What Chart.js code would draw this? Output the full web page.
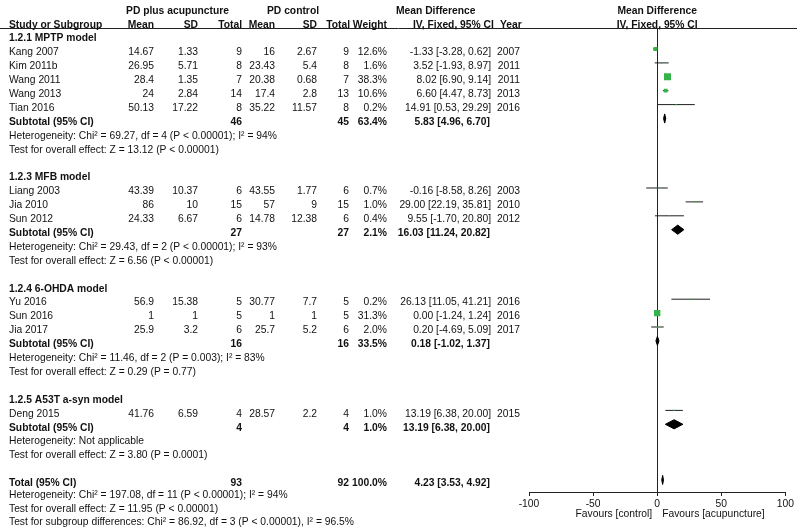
<!DOCTYPE html>
<html lang="en">
<head>
  <meta charset="UTF-8">
  <title>Forest Plot</title>
  <script src="https://cdn.jsdelivr.net/npm/chart.js"></script>
  <style>
    body { margin: 0; background: #fff; }
    #forest { display: block; }
  </style>
</head>
<body>
  <canvas id="forest" width="797" height="528"></canvas>
  <script>
    // studies, in table order
    var studyNames = ['Kang 2007', 'Kim 2011b', 'Wang 2011', 'Wang 2013', 'Tian 2016',
      'Liang 2003', 'Jia 2010', 'Sun 2012',
      'Yu 2016', 'Sun 2016', 'Jia 2017',
      'Deng 2015'];
    var expMean = [14.67, 26.95, 28.4, 24, 50.13, 43.39, 86, 24.33, 56.9, 1, 25.9, 41.76];
    var expSD = [1.33, 5.71, 1.35, 2.84, 17.22, 10.37, 10, 6.67, 15.38, 1, 3.2, 6.59];
    var expN = [9, 8, 7, 14, 8, 6, 15, 6, 5, 5, 6, 4];
    var ctlMean = [16, 23.43, 20.38, 17.4, 35.22, 43.55, 57, 14.78, 30.77, 1, 25.7, 28.57];
    var ctlSD = [2.67, 5.4, 0.68, 2.8, 11.57, 1.77, 9, 12.38, 7.7, 1, 5.2, 2.2];
    var ctlN = [9, 8, 7, 13, 8, 6, 15, 6, 5, 5, 6, 4];
    var weights = [12.6, 1.6, 38.3, 10.6, 0.2, 0.7, 1.0, 0.4, 0.2, 31.3, 2.0, 1.0];
    var md = [-1.33, 3.52, 8.02, 6.60, 14.91, -0.16, 29.00, 9.55, 26.13, 0.00, 0.20, 13.19];
    var mdLow = [-3.28, -1.93, 6.90, 4.47, 0.53, -8.58, 22.19, -1.70, 11.05, -1.24, -4.69, 6.38];
    var mdHigh = [0.62, 8.97, 9.14, 8.73, 29.29, 8.26, 35.81, 20.80, 41.21, 1.24, 5.09, 20.00];
    var years = [2007, 2011, 2011, 2013, 2016, 2003, 2010, 2012, 2016, 2016, 2017, 2015];
    var studyRows = [1, 2, 3, 4, 5, 11, 12, 13, 19, 20, 21, 27];

    // subgroups
    var groupNames = ['1.2.1 MPTP model', '1.2.3 MFB model', '1.2.4 6-OHDA model', '1.2.5 A53T a-syn model'];
    var groupRows = [0, 10, 18, 26];
    var subRows = [6, 14, 22, 28];
    var subExpN = [46, 27, 16, 4];
    var subCtlN = [45, 27, 16, 4];
    var subWeight = [63.4, 2.1, 33.5, 1.0];
    var subMd = [5.83, 16.03, 0.18, 13.19];
    var subLow = [4.96, 11.24, -1.02, 6.38];
    var subHigh = [6.70, 20.82, 1.37, 20.00];
    var subHet = ['Heterogeneity: Chi² = 69.27, df = 4 (P < 0.00001); I² = 94%',
      'Heterogeneity: Chi² = 29.43, df = 2 (P < 0.00001); I² = 93%',
      'Heterogeneity: Chi² = 11.46, df = 2 (P = 0.003); I² = 83%',
      'Heterogeneity: Not applicable'];
    var subTest = ['Test for overall effect: Z = 13.12 (P < 0.00001)',
      'Test for overall effect: Z = 6.56 (P < 0.00001)',
      'Test for overall effect: Z = 0.29 (P = 0.77)',
      'Test for overall effect: Z = 3.80 (P = 0.0001)'];

    // overall
    var totalRow = 32;
    var totalExpN = 93, totalCtlN = 92, totalWeight = 100.0;
    var totalMd = 4.23, totalLow = 3.53, totalHigh = 4.92;
    var totalLines = ['Heterogeneity: Chi² = 197.08, df = 11 (P < 0.00001); I² = 94%',
      'Test for overall effect: Z = 11.95 (P < 0.00001)',
      'Test for subgroup differences: Chi² = 86.92, df = 3 (P < 0.00001), I² = 96.5%'];
    var totalLineRows = [32.87, 33.83, 34.76];

    var xTicks = [-100, -50, 0, 50, 100];

    var FONT = '"Liberation Sans", Arial, sans-serif';
    var green = '#35b34a';
    var dh = 0.33; // diamond half height, in rows

    function ciText(m, lo, hi) {
      return m.toFixed(2) + ' [' + lo.toFixed(2) + ', ' + hi.toFixed(2) + ']';
    }

    var ciPts = [];
    for (var i = 0; i < md.length; i++) {
      ciPts.push({x: mdLow[i], y: studyRows[i]}, {x: mdHigh[i], y: studyRows[i]}, {x: null, y: null});
    }
    var squarePts = md.map(function (m, i) { return {x: m, y: studyRows[i]}; });
    var squareR = weights.map(function (w) { return Math.max(0.8 * Math.sqrt(w), 0.8); });

    var diamondPts = [];
    function addDiamond(m, lo, hi, r) {
      diamondPts.push({x: lo, y: r}, {x: m, y: r - dh}, {x: hi, y: r}, {x: m, y: r + dh}, {x: lo, y: r}, {x: null, y: null});
    }
    subMd.forEach(function (m, i) { addDiamond(m, subLow[i], subHigh[i], subRows[i]); });
    addDiamond(totalMd, totalLow, totalHigh, totalRow);

    var tablePlugin = {
      id: 'table',
      beforeDatasetsDraw: function (chart) {
        var ctx = chart.ctx, area = chart.chartArea;
        var x0 = Math.round(chart.scales.x.getPixelForValue(0)) + 0.5;
        ctx.save();
        ctx.strokeStyle = '#222';
        ctx.lineWidth = 1;
        ctx.beginPath();
        ctx.moveTo(0, 28.5);
        ctx.lineTo(797, 28.5);
        ctx.moveTo(x0, 28.5);
        ctx.lineTo(x0, area.bottom);
        ctx.stroke();
        ctx.restore();
      },
      afterDraw: function (chart) {
        var ctx = chart.ctx, y = chart.scales.y, xs = chart.scales.x;
        var x0 = xs.getPixelForValue(0);
        ctx.save();
        ctx.fillStyle = '#111';
        function text(str, px, row, align, bold) {
          ctx.font = (bold ? 'bold ' : '') + '10.3px ' + FONT;
          ctx.textAlign = align;
          ctx.fillText(String(str), px, y.getPixelForValue(row) + 6.3);
        }
        // headers
        text('PD plus acupuncture', 177.5, -2, 'center', true);
        text('PD control', 293, -2, 'center', true);
        text('Mean Difference', 396, -2, 'left', true);
        text('Mean Difference', x0, -2, 'center', true);
        text('Study or Subgroup', 9, -1, 'left', true);
        text('Mean', 154, -1, 'right', true);
        text('SD', 198, -1, 'right', true);
        text('Total', 242, -1, 'right', true);
        text('Mean', 275, -1, 'right', true);
        text('SD', 317, -1, 'right', true);
        text('Total', 350, -1, 'right', true);
        text('Weight', 387, -1, 'right', true);
        text('IV, Fixed, 95% CI', 413, -1, 'left', true);
        text('Year', 500, -1, 'left', true);
        text('IV, Fixed, 95% CI', x0, -1, 'center', true);

        // studies
        for (var i = 0; i < studyNames.length; i++) {
          var r = studyRows[i];
          text(studyNames[i], 9, r, 'left');
          text(expMean[i], 154, r, 'right');
          text(expSD[i], 198, r, 'right');
          text(expN[i], 242, r, 'right');
          text(ctlMean[i], 275, r, 'right');
          text(ctlSD[i], 317, r, 'right');
          text(ctlN[i], 349, r, 'right');
          text(weights[i].toFixed(1) + '%', 387, r, 'right');
          text(ciText(md[i], mdLow[i], mdHigh[i]), 491, r, 'right');
          text(years[i], 520, r, 'right');
        }
        // subgroups
        for (var g = 0; g < groupNames.length; g++) {
          var s = subRows[g];
          text(groupNames[g], 9, groupRows[g], 'left', true);
          text('Subtotal (95% CI)', 9, s, 'left', true);
          text(subExpN[g], 242, s, 'right', true);
          text(subCtlN[g], 349, s, 'right', true);
          text(subWeight[g].toFixed(1) + '%', 387, s, 'right', true);
          text(ciText(subMd[g], subLow[g], subHigh[g]), 490, s, 'right', true);
          text(subHet[g], 9, s + 1, 'left');
          text(subTest[g], 9, s + 2, 'left');
        }
        // total
        text('Total (95% CI)', 9, totalRow, 'left', true);
        text(totalExpN, 242, totalRow, 'right', true);
        text(totalCtlN, 349, totalRow, 'right', true);
        text(totalWeight.toFixed(1) + '%', 387, totalRow, 'right', true);
        text(ciText(totalMd, totalLow, totalHigh), 490, totalRow, 'right', true);
        totalLines.forEach(function (t, k) { text(t, 9, totalLineRows[k], 'left'); });

        // favours labels
        ctx.font = '10.3px ' + FONT;
        ctx.textAlign = 'right';
        ctx.fillText('Favours [control]', x0 - 5, chart.chartArea.bottom + 25.3);
        ctx.textAlign = 'left';
        ctx.fillText('Favours [acupuncture]', x0 + 5, chart.chartArea.bottom + 25.3);
        ctx.restore();
      }
    };

    var ctx = document.getElementById('forest').getContext('2d');
    var forest = new Chart(ctx, {
      type: 'scatter',
      data: {
        datasets: [{
          label: 'Studies',
          data: squarePts,
          pointStyle: 'rect',
          pointRadius: squareR,
          pointBackgroundColor: green,
          pointBorderWidth: 0
        }, {
          label: 'Pooled',
          data: diamondPts,
          showLine: true,
          fill: 'shape',
          backgroundColor: '#000',
          borderColor: '#000',
          borderWidth: 1,
          pointRadius: 0,
          spanGaps: false
        }, {
          label: 'CI',
          data: ciPts,
          showLine: true,
          borderColor: '#1e1e1e',
          borderWidth: 1,
          pointRadius: 0,
          spanGaps: false
        }]
      },
      options: {
        responsive: false,
        animation: false,
        devicePixelRatio: 1,
        layout: { padding: { left: 529, right: 10, top: 28, bottom: 36 } },
        plugins: { legend: { display: false }, tooltip: { enabled: false } },
        scales: {
          x: {
            type: 'linear',
            min: -100,
            max: 100,
            position: { y: 32.871 },
            afterBuildTicks: function (scale) {
              scale.ticks = xTicks.map(function (v) { return {value: v}; });
            },
            grid: { display: true, drawOnChartArea: false, drawTicks: true, tickLength: 3, color: '#222' },
            border: { display: true, color: '#222', width: 1 },
            ticks: { color: '#111', font: { family: FONT, size: 10.3 }, padding: 3 }
          },
          y: {
            type: 'linear',
            reverse: true,
            min: -0.511,
            max: 32.871,
            display: false
          }
        }
      },
      plugins: [tablePlugin]
    });
  </script>
</body>
</html>
